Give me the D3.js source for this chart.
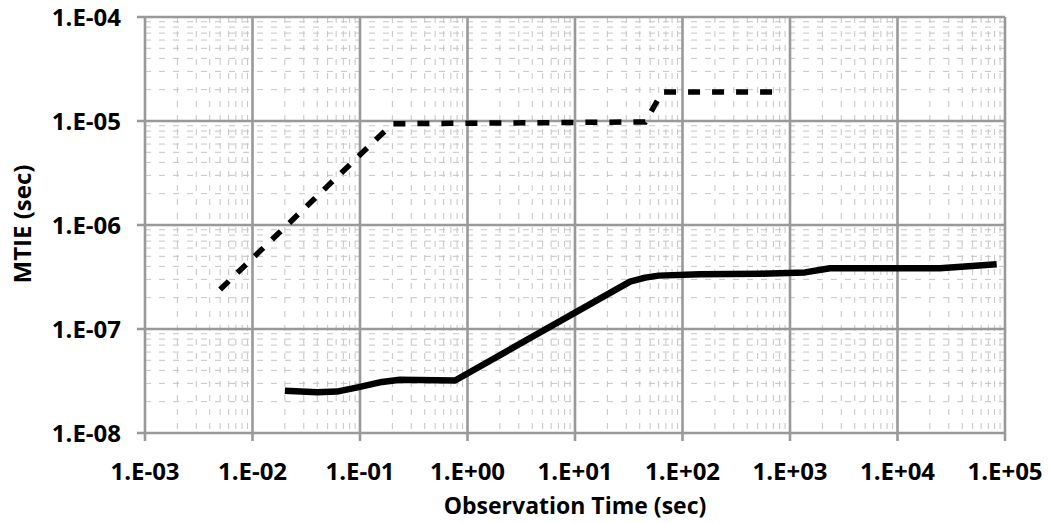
<!DOCTYPE html>
<html><head><meta charset="utf-8">
<script src="https://cdn.jsdelivr.net/npm/d3@7"></script>
<style>
body{margin:0;background:#fff}
text{font-family:"Open Sans",sans-serif;font-weight:bold;fill:#000}
</style>
</head><body><svg id="c" width="1049" height="523"></svg>
<script>
const xTicks = [1e-3,1e-2,1e-1,1e0,1e1,1e2,1e3,1e4,1e5];
const xTickLabels = ["1.E-03","1.E-02","1.E-01","1.E+00","1.E+01","1.E+02","1.E+03","1.E+04","1.E+05"];
const yTicks = [1e-8,1e-7,1e-6,1e-5,1e-4];
const yTickLabels = ["1.E-08","1.E-07","1.E-06","1.E-05","1.E-04"];
const maskTau  = [0.005, 0.2, 45, 65, 700];
const maskMtie = [2.4e-7, 9.4e-6, 9.8e-6, 1.9e-5, 1.9e-5];
const measTau  = [0.02, 0.04, 0.061, 0.1, 0.16, 0.235, 0.766, 32.5, 45, 60, 145, 525, 1380, 2355, 24800, 83700];
const measMtie = [2.55e-8, 2.47e-8, 2.5e-8, 2.78e-8, 3.1e-8, 3.25e-8, 3.2e-8, 2.85e-7, 3.12e-7, 3.26e-7, 3.36e-7, 3.4e-7, 3.5e-7, 3.84e-7, 3.84e-7, 4.2e-7];

const L=145, R=1005, T=17, B=433;
const svg = d3.select("#c");
const x = d3.scaleLog().domain([1e-3,1e5]).range([L,R]);
const y = d3.scaleLog().domain([1e-8,1e-4]).range([B,T]);

// minor grid
const minorX=[], minorY=[];
for(let e=-3;e<5;e++) for(let m=2;m<=9;m++) minorX.push(m*Math.pow(10,e));
for(let e=-8;e<-4;e++) for(let m=2;m<=9;m++) minorY.push(m*Math.pow(10,e));
const g = svg.append("g");
g.selectAll(".mx").data(minorX).enter().append("line")
 .attr("x1",d=>x(d)).attr("x2",d=>x(d)).attr("y1",T).attr("y2",B)
 .attr("stroke","#c4c4c4").attr("stroke-width",1).attr("stroke-dasharray","6,8");
g.selectAll(".my").data(minorY).enter().append("line")
 .attr("y1",d=>y(d)).attr("y2",d=>y(d)).attr("x1",L).attr("x2",R)
 .attr("stroke","#c4c4c4").attr("stroke-width",1).attr("stroke-dasharray","6,8");

// major grid
g.selectAll(".Mx").data(xTicks).enter().append("line")
 .attr("x1",d=>x(d)).attr("x2",d=>x(d)).attr("y1",T).attr("y2",B+8)
 .attr("stroke","#999").attr("stroke-width",2.6);
g.selectAll(".My").data(yTicks).enter().append("line")
 .attr("y1",d=>y(d)).attr("y2",d=>y(d)).attr("x1",L-8).attr("x2",R)
 .attr("stroke","#999").attr("stroke-width",2.6);

// tick labels
svg.selectAll(".xl").data(xTicks).enter().append("text")
 .attr("x",d=>x(d)).attr("y",480).attr("text-anchor","middle")
 .attr("font-size",24).text((d,i)=>xTickLabels[i]);
svg.selectAll(".yl").data(yTicks).enter().append("text")
 .attr("x",121).attr("y",d=>y(d)+9).attr("text-anchor","end")
 .attr("font-size",24).text((d,i)=>yTickLabels[i]);

svg.append("text").attr("x",575).attr("y",514).attr("text-anchor","middle")
 .attr("font-size",23).text("Observation Time (sec)");
svg.append("text").attr("transform","translate(31,224) rotate(-90)").attr("text-anchor","middle")
 .attr("font-size",24).text("MTIE (sec)");

// lines
const mask = maskTau.map((t,i)=>[t,maskMtie[i]]);
const meas = measTau.map((t,i)=>[t,measMtie[i]]);
svg.append("path").attr("d",d3.line().x(d=>x(d[0])).y(d=>y(d[1]))(mask))
 .attr("fill","none").attr("stroke","#000").attr("stroke-width",5.5).attr("stroke-dasharray","12,12");
svg.append("path").attr("d",d3.line().x(d=>x(d[0])).y(d=>y(d[1]))(meas))
 .attr("fill","none").attr("stroke","#000").attr("stroke-width",6.5).attr("stroke-linejoin","round");
</script></body></html>
